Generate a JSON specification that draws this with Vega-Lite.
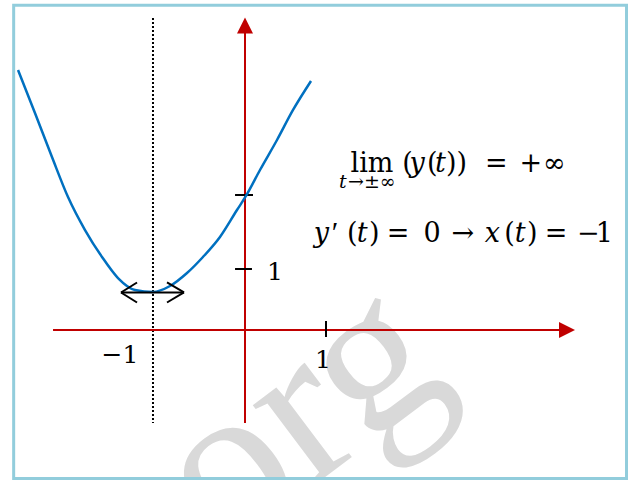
{
  "$schema": "https://vega.github.io/schema/vega-lite/v6.json",
  "width": 629,
  "height": 480,
  "autosize": {"type": "none"},
  "padding": 0,
  "background": "white",
  "config": {"view": {"stroke": null}},
  "encoding": {
    "x": {"field": "x", "type": "quantitative", "axis": null, "scale": {"domain": [-3.0247, 4.7407], "nice": false, "zero": false}},
    "y": {"field": "y", "type": "quantitative", "axis": null, "scale": {"domain": [-2.459, 5.4098], "nice": false, "zero": false}}
  },
  "layer": [
    {
      "data": {"values": [{"x": 0.654, "y": -1.393, "label": "org"}]},
      "mark": {"type": "text", "font": "Liberation Serif", "fontSize": 220, "angle": -37, "align": "center", "baseline": "middle", "color": "#d9d9d9"},
      "encoding": {"text": {"field": "label"}}
    },
    {
      "data": {"values": [{"x": -2.856, "y": 5.323, "x2": 4.71, "y2": -2.434}]},
      "mark": {"type": "rect", "fill": null, "stroke": "#92CDDC", "strokeWidth": 3},
      "encoding": {"x2": {"field": "x2"}, "y2": {"field": "y2"}}
    },
    {
      "data": {"values": [{"x": -1.136, "y": 5.115, "x2": -1.136, "y2": -1.525}]},
      "mark": {"type": "rule", "color": "black", "strokeWidth": 2, "strokeDash": [2, 2]},
      "encoding": {"x2": {"field": "x2"}, "y2": {"field": "y2"}}
    },
    {
      "data": {"values": [
        {"x": 0, "y": -1.525, "x2": 0, "y2": 4.869},
        {"x": -2.37, "y": 0, "x2": 3.889, "y2": 0}
      ]},
      "mark": {"type": "rule", "color": "#C00000", "strokeWidth": 2},
      "encoding": {"x2": {"field": "x2"}, "y2": {"field": "y2"}}
    },
    {
      "data": {"values": [{"x": 0, "y": 4.992}]},
      "mark": {"type": "point", "shape": "M-1,1L1,1L0,-1Z", "size": 256, "filled": true, "color": "#C00000", "opacity": 1}
    },
    {
      "data": {"values": [{"x": 3.975, "y": 0}]},
      "mark": {"type": "point", "shape": "M-1,-1L1,0L-1,1Z", "size": 256, "filled": true, "color": "#C00000", "opacity": 1}
    },
    {
      "data": {"values": [
        {"x": -0.123, "y": 2.213, "x2": 0.099, "y2": 2.213},
        {"x": -0.123, "y": 1.0, "x2": 0.086, "y2": 1.0},
        {"x": 1.0, "y": 0.148, "x2": 1.0, "y2": -0.115}
      ]},
      "mark": {"type": "rule", "color": "black", "strokeWidth": 2},
      "encoding": {"x2": {"field": "x2"}, "y2": {"field": "y2"}}
    },
    {
      "data": {"values": [
        {"x": -2.802, "y": 4.262}, {"x": -2.593, "y": 3.557}, {"x": -2.383, "y": 2.836},
        {"x": -2.185, "y": 2.18}, {"x": -1.975, "y": 1.639}, {"x": -1.765, "y": 1.197},
        {"x": -1.568, "y": 0.852}, {"x": -1.358, "y": 0.656}, {"x": -1.136, "y": 0.623},
        {"x": -0.926, "y": 0.721}, {"x": -0.716, "y": 0.934}, {"x": -0.519, "y": 1.197},
        {"x": -0.309, "y": 1.525}, {"x": -0.099, "y": 1.967}, {"x": 0.012, "y": 2.197},
        {"x": 0.185, "y": 2.623}, {"x": 0.395, "y": 3.115}, {"x": 0.593, "y": 3.607},
        {"x": 0.815, "y": 4.082}
      ]},
      "mark": {"type": "line", "color": "#0070C0", "strokeWidth": 2.5, "interpolate": "monotone"}
    },
    {
      "data": {"values": [
        {"x": -1.531, "y": 0.615, "x2": -0.753, "y2": 0.615},
        {"x": -1.531, "y": 0.615, "x2": -1.333, "y2": 0.779},
        {"x": -1.531, "y": 0.615, "x2": -1.333, "y2": 0.451},
        {"x": -0.753, "y": 0.615, "x2": -0.963, "y2": 0.779},
        {"x": -0.753, "y": 0.615, "x2": -0.963, "y2": 0.451}
      ]},
      "mark": {"type": "rule", "color": "black", "strokeWidth": 2},
      "encoding": {"x2": {"field": "x2"}, "y2": {"field": "y2"}}
    },
    {
      "data": {"values": [
        {"x": 0.272, "y": 0.82, "label": "1"}
      ]},
      "mark": {"type": "text", "font": "DejaVu Serif", "fontSize": 25, "align": "left", "baseline": "alphabetic", "color": "black"},
      "encoding": {"text": {"field": "label"}}
    },
    {
      "data": {"values": [
        {"x": -1.543, "y": -0.541, "label": "−1"},
        {"x": 0.963, "y": -0.623, "label": "1"}
      ]},
      "mark": {"type": "text", "font": "DejaVu Serif", "fontSize": 25, "align": "center", "baseline": "alphabetic", "color": "black"},
      "encoding": {"text": {"field": "label"}}
    },
    {
      "data": {"values": [
        {"x": 1.568, "y": 2.59, "label": "lim"}
      ]},
      "mark": {"type": "text", "font": "DejaVu Serif", "fontSize": 27, "align": "center", "baseline": "alphabetic", "color": "black"},
      "encoding": {"text": {"field": "label"}}
    },
    {
      "data": {"values": [
        {"x": 1.16, "y": 2.328, "label": "t"}
      ]},
      "mark": {"type": "text", "font": "DejaVu Serif", "fontSize": 19, "fontStyle": "italic", "align": "left", "baseline": "alphabetic", "color": "black"},
      "encoding": {"text": {"field": "label"}}
    },
    {
      "data": {"values": [
        {"x": 1.272, "y": 2.328, "label": "→±∞"}
      ]},
      "mark": {"type": "text", "font": "DejaVu Serif", "fontSize": 19, "align": "left", "baseline": "alphabetic", "color": "black"},
      "encoding": {"text": {"field": "label"}}
    },
    {
      "data": {"values": [
        {"x": 1.94, "y": 2.59, "label": "("},
        {"x": 2.247, "y": 2.59, "label": "("},
        {"x": 2.48, "y": 2.59, "label": "))"},
        {"x": 2.963, "y": 2.59, "label": "="},
        {"x": 3.39, "y": 2.59, "label": "+"},
        {"x": 3.679, "y": 2.59, "label": "∞"},
        {"x": 1.26, "y": 1.443, "label": "("},
        {"x": 1.53, "y": 1.443, "label": ")"},
        {"x": 1.75, "y": 1.443, "label": "="},
        {"x": 2.205, "y": 1.443, "label": "0"},
        {"x": 2.55, "y": 1.443, "label": "→"},
        {"x": 3.2, "y": 1.443, "label": "("},
        {"x": 3.48, "y": 1.443, "label": ")"},
        {"x": 3.7, "y": 1.443, "label": "="},
        {"x": 4.1, "y": 1.443, "label": "−"},
        {"x": 4.33, "y": 1.443, "label": "1"}
      ]},
      "mark": {"type": "text", "font": "DejaVu Serif", "fontSize": 27, "align": "left", "baseline": "alphabetic", "color": "black"},
      "encoding": {"text": {"field": "label"}}
    },
    {
      "data": {"values": [
        {"x": 1.07, "y": 1.443, "label": "′"}
      ]},
      "mark": {"type": "text", "font": "Liberation Serif", "fontSize": 30, "align": "left", "baseline": "alphabetic", "color": "black"},
      "encoding": {"text": {"field": "label"}}
    },
    {
      "data": {"values": [
        {"x": 2.03, "y": 2.59, "label": "y"},
        {"x": 2.345, "y": 2.59, "label": "t"},
        {"x": 0.85, "y": 1.443, "label": "y"},
        {"x": 1.38, "y": 1.443, "label": "t"},
        {"x": 2.96, "y": 1.443, "label": "x"},
        {"x": 3.33, "y": 1.443, "label": "t"}
      ]},
      "mark": {"type": "text", "font": "DejaVu Serif", "fontSize": 27, "fontStyle": "italic", "align": "left", "baseline": "alphabetic", "color": "black"},
      "encoding": {"text": {"field": "label"}}
    }
  ]
}
